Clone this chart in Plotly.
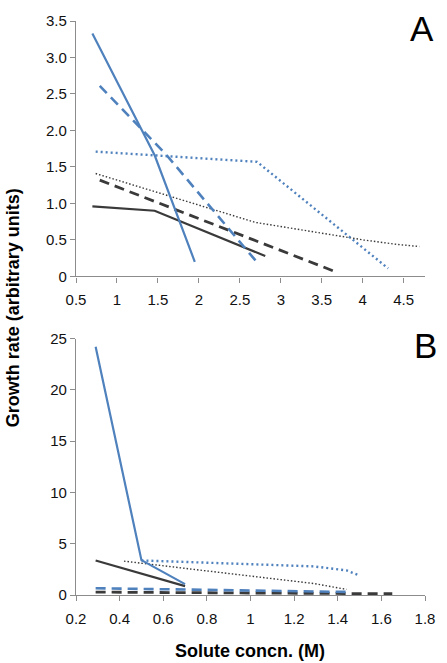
import plotly.graph_objects as go
from plotly.subplots import make_subplots

BLUE = "#4F81BD"
DARK = "#3A3A3A"
FONT = "Liberation Sans, Arial, sans-serif"

# ---- Panel A data ----
a_blue_solid_x = [0.70, 1.46, 1.95]
a_blue_solid_y = [3.33, 1.66, 0.20]
a_blue_dash_x = [0.79, 1.60, 2.72]
a_blue_dash_y = [2.61, 1.67, 0.18]
a_blue_dot_x = [0.74, 1.46, 2.71, 4.31]
a_blue_dot_y = [1.71, 1.66, 1.57, 0.11]
a_dark_solid_x = [0.70, 1.46, 2.81]
a_dark_solid_y = [0.96, 0.90, 0.28]
a_dark_dash_x = [0.79, 3.70]
a_dark_dash_y = [1.32, 0.05]
a_dark_dot_x = [0.74, 2.69, 4.01, 4.41, 4.69]
a_dark_dot_y = [1.41, 0.74, 0.50, 0.44, 0.41]

a_xticks = [0.5, 1, 1.5, 2, 2.5, 3, 3.5, 4, 4.5]
a_xticktext = ["0.5", "1", "1.5", "2", "2.5", "3", "3.5", "4", "4.5"]
a_yticks = [0, 0.5, 1.0, 1.5, 2.0, 2.5, 3.0, 3.5]
a_yticktext = ["0", "0.5", "1.0", "1.5", "2.0", "2.5", "3.0", "3.5"]

# ---- Panel B data ----
b_blue_solid_x = [0.29, 0.50, 0.70]
b_blue_solid_y = [24.2, 3.4, 1.06]
b_dark_solid_x = [0.29, 0.70]
b_dark_solid_y = [3.37, 0.87]
b_blue_dot_x = [0.50, 1.29, 1.44, 1.50]
b_blue_dot_y = [3.37, 2.79, 2.40, 1.90]
b_dark_dot_x = [0.42, 1.29, 1.44]
b_dark_dot_y = [3.30, 1.12, 0.55]
b_blue_dash_x = [0.29, 1.44]
b_blue_dash_y = [0.66, 0.30]
b_dark_dash_x = [0.29, 1.65]
b_dark_dash_y = [0.28, 0.12]

b_xticks = [0.2, 0.4, 0.6, 0.8, 1.0, 1.2, 1.4, 1.6, 1.8]
b_xticktext = ["0.2", "0.4", "0.6", "0.8", "1", "1.2", "1.4", "1.6", "1.8"]
b_yticks = [0, 5, 10, 15, 20, 25]
b_yticktext = ["0", "5", "10", "15", "20", "25"]

fig = make_subplots(rows=2, cols=1, vertical_spacing=0.1)

styles = {
    "blue_solid": dict(color=BLUE, width=2.2, dash="solid"),
    "blue_dash": dict(color=BLUE, width=2.6, dash="10px,6px"),
    "blue_dot": dict(color=BLUE, width=2.4, dash="2px,3px"),
    "dark_solid": dict(color=DARK, width=2.2, dash="solid"),
    "dark_dash": dict(color=DARK, width=2.8, dash="10px,6px"),
    "dark_dot": dict(color=DARK, width=1.4, dash="1.5px,2px"),
}

a_series = [
    ("dark_dot", a_dark_dot_x, a_dark_dot_y),
    ("dark_dash", a_dark_dash_x, a_dark_dash_y),
    ("dark_solid", a_dark_solid_x, a_dark_solid_y),
    ("blue_dot", a_blue_dot_x, a_blue_dot_y),
    ("blue_dash", a_blue_dash_x, a_blue_dash_y),
    ("blue_solid", a_blue_solid_x, a_blue_solid_y),
]
b_series = [
    ("dark_dash", b_dark_dash_x, b_dark_dash_y),
    ("blue_dash", b_blue_dash_x, b_blue_dash_y),
    ("dark_dot", b_dark_dot_x, b_dark_dot_y),
    ("blue_dot", b_blue_dot_x, b_blue_dot_y),
    ("dark_solid", b_dark_solid_x, b_dark_solid_y),
    ("blue_solid", b_blue_solid_x, b_blue_solid_y),
]
for name, x, y in a_series:
    fig.add_trace(go.Scatter(x=x, y=y, mode="lines", line=styles[name],
                             showlegend=False, hoverinfo="skip"), row=1, col=1)
for name, x, y in b_series:
    fig.add_trace(go.Scatter(x=x, y=y, mode="lines", line=styles[name],
                             showlegend=False, hoverinfo="skip"), row=2, col=1)

axis_common = dict(showgrid=False, zeroline=False, showline=True, linecolor="#8C8C8C",
                   linewidth=1.3, ticks="outside", tickcolor="#8C8C8C", ticklen=5,
                   tickwidth=1.3, tickfont=dict(family=FONT, size=15, color="#111111"))

fig.update_xaxes(**axis_common)
fig.update_yaxes(**axis_common)

fig.update_layout(
    xaxis=dict(domain=[0, 1], range=[0.5, 4.76], tickmode="array", tickvals=a_xticks,
               ticktext=a_xticktext, ticklabelstandoff=4),
    yaxis=dict(domain=[0.555, 1], range=[0, 3.5], tickmode="array", tickvals=a_yticks,
               ticktext=a_yticktext),
    xaxis2=dict(domain=[0, 1], range=[0.2, 1.8], tickmode="array", tickvals=b_xticks,
                ticktext=b_xticktext, ticklabelstandoff=5),
    yaxis2=dict(domain=[0, 0.4467], range=[0, 25], tickmode="array", tickvals=b_yticks,
                ticktext=b_yticktext),
    width=447, height=663,
    margin=dict(l=76, r=15, t=13, b=68),
    plot_bgcolor="white", paper_bgcolor="white",
    font=dict(family=FONT),
    annotations=[
        dict(text="A", xref="paper", yref="paper", x=(429 - 76) / 356, y=1 - (21 - 13) / 582,
             showarrow=False, font=dict(size=35, color="black", family=FONT),
             xanchor="center", yanchor="middle"),
        dict(text="B", xref="paper", yref="paper", x=(432 - 76) / 356, y=1 - (342 - 13) / 582,
             showarrow=False, font=dict(size=35, color="black", family=FONT),
             xanchor="center", yanchor="middle"),
        dict(text="<b>Solute concn. (M)</b>", xref="paper", yref="paper",
             x=(253.5 - 76) / 356, y=1 - (652 - 13) / 582,
             showarrow=False, font=dict(size=18, color="black", family=FONT),
             xanchor="center", yanchor="middle"),
        dict(text="<b>Growth rate (arbitrary units)</b>", xref="paper", yref="paper",
             x=(12 - 76) / 356, y=1 - (304 - 13) / 582, textangle=-90,
             showarrow=False, font=dict(size=18, color="black", family=FONT),
             xanchor="center", yanchor="middle"),
    ],
)

fig.write_html("out.html", config={"displayModeBar": False},
               post_script="document.body.style.margin='0';document.body.style.overflow='hidden';")
